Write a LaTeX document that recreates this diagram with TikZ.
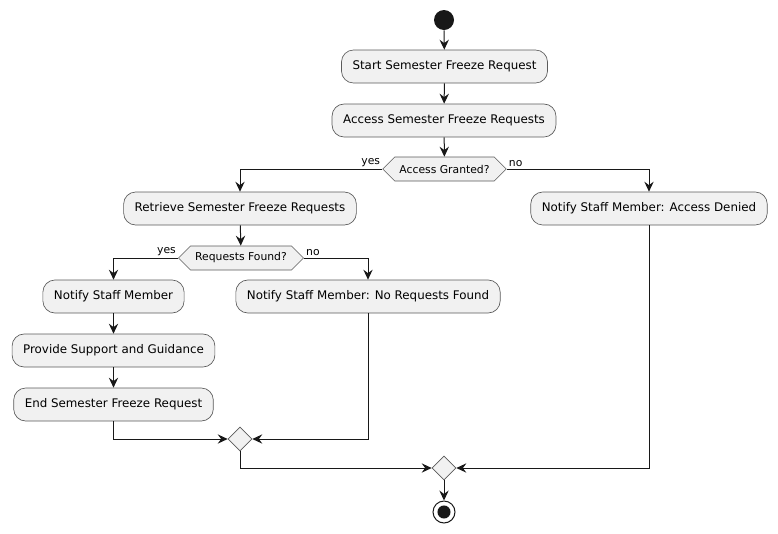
\documentclass[tikz,border=0pt]{standalone}
\usepackage{fontspec}
\setmainfont{DejaVu Sans}
\usepackage{tikz}
\usetikzlibrary{shapes.geometric, shapes.symbols, arrows.meta, positioning}
\definecolor{mydark}{RGB}{24,24,24}
\definecolor{myfill}{RGB}{241,241,241}
\definecolor{myedge}{RGB}{90,90,90}
\tikzset{
  action/.style={rectangle, draw=myedge, fill=myfill, rounded corners=9pt,
    minimum height=24.75pt, inner xsep=8.3pt, line width=0.5pt,
    font=\fontsize{8.9}{11}\selectfont},
  decision/.style={signal, signal to=west and east, signal pointer angle=90,
    draw=myedge, fill=myfill, minimum height=18pt, inner xsep=3.5pt, inner ysep=0pt,
    line width=0.5pt, font=\fontsize{8.1}{10}\selectfont},
  merge/.style={diamond, draw=myedge, fill=myfill, minimum size=18pt,
    inner sep=0pt, line width=0.5pt},
  startnode/.style={circle, fill=mydark, minimum size=15pt, inner sep=0pt},
  stopnode/.style={circle, draw=mydark, fill=white, minimum size=16.5pt, inner sep=0pt,
    line width=0.75pt,
    path picture={\fill[mydark] (path picture bounding box.center) circle (4.9pt);}},
  guard/.style={font=\fontsize{8.1}{10}\selectfont, inner sep=1.5pt},
  flow/.style={-{Stealth[length=7.5pt, width=7pt, inset=2.6pt]}, line width=0.75pt, color=mydark}
}

\begin{document}
\begin{tikzpicture}[x=0.75pt, y=-0.75pt]
  \useasboundingbox (0,0) rectangle (778,533);

  % Main column
  \node[startnode] (start) at (444,20) {};
  \node[action] (startreq) at (444.5,66.5) {Start Semester Freeze Request};
  \node[action] (access) at (444,120.5) {Access Semester Freeze Requests};
  \node[decision] (granted) at (444.5,169) {Access Granted?};

  % Granted branch
  \node[action] (retrieve) at (240,208.5) {Retrieve Semester Freeze Requests};
  \node[decision] (found) at (241,258) {Requests Found?};
  \node[action] (notify) at (113.5,296.5) {Notify Staff Member};
  \node[action] (support) at (113.5,350.5) {Provide Support and Guidance};
  \node[action] (endreq) at (113.5,404.5) {End Semester Freeze Request};
  \node[action] (norequests) at (368,296.5) {Notify Staff Member: No Requests Found};
  \node[merge] (merge1) at (240,439) {};

  % Denied branch
  \node[action] (denied) at (649,208.5) {Notify Staff Member: Access Denied};

  % Final merge
  \node[merge] (merge2) at (444,468) {};
  \node[stopnode] (stop) at (444,512) {};

  % Flows
  \draw[flow] (start) -- (startreq);
  \draw[flow] (startreq) -- (access);
  \draw[flow] (access) -- (granted);
  \draw[flow] (granted.west) -| (retrieve.north);
  \draw[flow] (granted.east) -| (denied.north);
  \node[guard, anchor=south east] at (granted.west) {yes};
  \node[guard, anchor=south west] at (granted.east) {no};

  \draw[flow] (retrieve) -- (found);
  \draw[flow] (found.west) -| (notify.north);
  \draw[flow] (found.east) -| (norequests.north);
  \node[guard, anchor=south east] at (found.west) {yes};
  \node[guard, anchor=south west] at (found.east) {no};

  \draw[flow] (notify) -- (support);
  \draw[flow] (support) -- (endreq);
  \draw[flow] (endreq.south) |- (merge1.west);
  \draw[flow] (norequests.south) |- (merge1.east);

  \draw[flow] (merge1.south) |- (merge2.west);
  \draw[flow] (denied.south) |- (merge2.east);
  \draw[flow] (merge2) -- (stop);
\end{tikzpicture}
\end{document}
